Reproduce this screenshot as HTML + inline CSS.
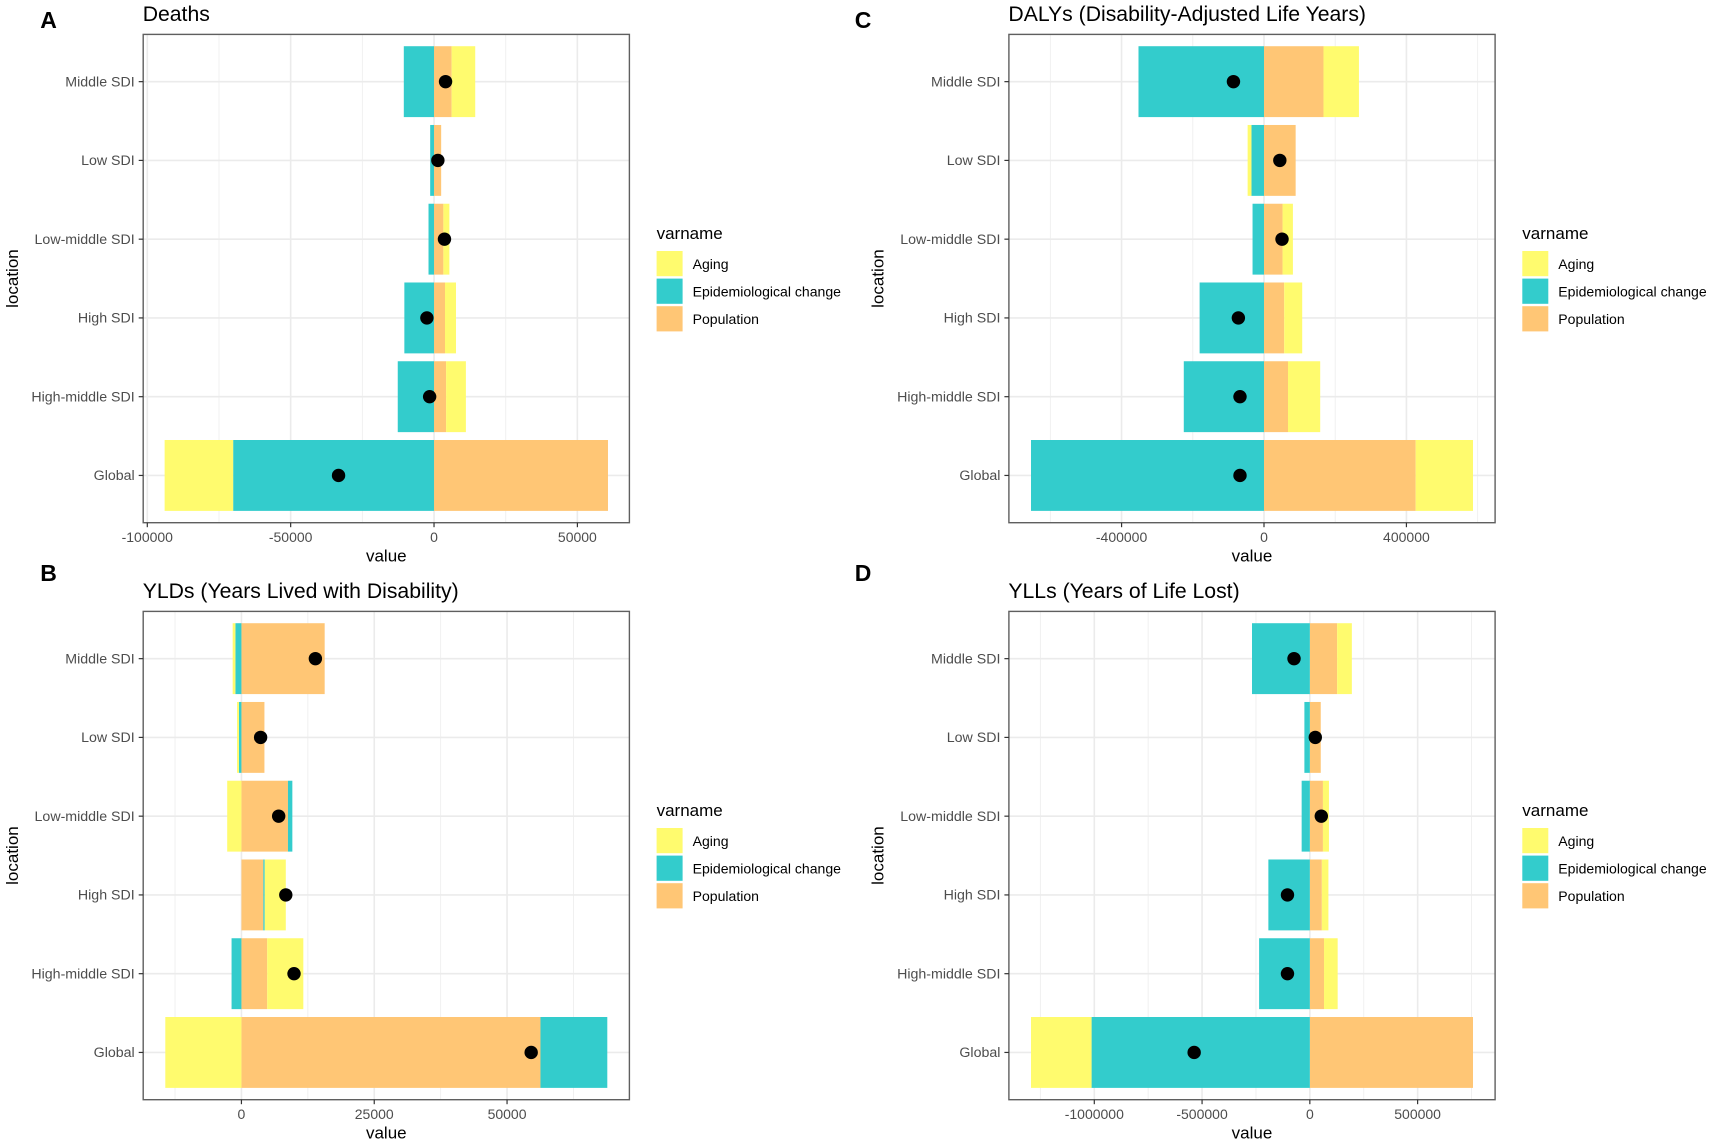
<!DOCTYPE html>
<html lang="en">
<head>
<meta charset="utf-8">
<title>Decomposition of burden by SDI</title>
<style>
html,body{margin:0;padding:0;background:#fff;}
#figure{display:block;width:1712px;height:1144px;font-family:"Liberation Sans",Arial,sans-serif;}
</style>
</head>
<body>
<svg id="figure" xmlns="http://www.w3.org/2000/svg" width="1712" height="1144" viewBox="0 0 1712 1144"></svg>
<script>
const categories = ["Middle SDI", "Low SDI", "Low-middle SDI", "High SDI", "High-middle SDI", "Global"];
const seriesNames = ["Aging", "Epidemiological change", "Population"];

const deathsAging = [8240, 0, 2100, 3830, 6900, -23900];
const deathsEpi = [-10540, -1340, -1920, -10350, -12650, -70060];
const deathsPop = [6130, 2490, 3260, 3830, 4215, 60670];
const deathsNet = [4020, 1340, 3640, -2490, -1530, -33300];
const deathsDomain = [-101430, 68140];
const deathsTicks = [-100000, -50000, 0, 50000];

const yldsAging = [-515, -360, -2680, 3970, 6800, -14330];
const yldsEpi = [-1134, -464, 825, 258, -1856, 12580];
const yldsPop = [15670, 4330, 8760, 4124, 4850, 56290];
const yldsNet = [13920, 3610, 7010, 8350, 9900, 54540];
const yldsDomain = [-18490, 73030];
const yldsTicks = [0, 25000, 50000];

const dalysAging = [99600, -10730, 29100, 50600, 90400, 161000];
const dalysEpi = [-352500, -35250, -32180, -180850, -225300, -654400];
const dalysPop = [167050, 88900, 52100, 56700, 67430, 426000];
const dalysNet = [-85800, 44450, 50600, -72000, -67430, -67430];
const dalysDomain = [-716470, 649070];
const dalysTicks = [-400000, 0, 400000];

const yllsAging = [68350, 0, 27850, 30400, 63300, -281000];
const yllsEpi = [-268350, -25300, -38000, -192400, -235400, -1012640];
const yllsPop = [126600, 50600, 60760, 55700, 65800, 756950];
const yllsNet = [-73400, 25300, 53160, -103800, -103800, -536700];
const yllsDomain = [-1396180, 859480];
const yllsTicks = [-1000000, -500000, 0, 500000];

const panels = [
  {key: "deaths", letter: "A", title: "Deaths", col: 0, row: 0, aging: deathsAging, epi: deathsEpi, pop: deathsPop, net: deathsNet, domain: deathsDomain, ticks: deathsTicks},
  {key: "ylds", letter: "B", title: "YLDs (Years Lived with Disability)", col: 0, row: 1, aging: yldsAging, epi: yldsEpi, pop: yldsPop, net: yldsNet, domain: yldsDomain, ticks: yldsTicks},
  {key: "dalys", letter: "C", title: "DALYs (Disability-Adjusted Life Years)", col: 1, row: 0, aging: dalysAging, epi: dalysEpi, pop: dalysPop, net: dalysNet, domain: dalysDomain, ticks: dalysTicks},
  {key: "ylls", letter: "D", title: "YLLs (Years of Life Lost)", col: 1, row: 1, aging: yllsAging, epi: yllsEpi, pop: yllsPop, net: yllsNet, domain: yllsDomain, ticks: yllsTicks}
];

const COLORS = {Aging: "#fffb6e", Epi: "#33cccc", Pop: "#ffc675"};
const NS = "http://www.w3.org/2000/svg";
const svg = document.getElementById("figure");

function mk(parent, tag, attrs, text) {
  const el = document.createElementNS(NS, tag);
  for (const k in attrs) el.setAttribute(k, attrs[k]);
  if (text !== undefined) el.textContent = text;
  parent.appendChild(el);
  return el;
}

function drawPanel(p) {
  const dx = p.col * 865.7, dy = p.row * 577;
  const L = 143.2 + dx, R = 629.4 + dx, T = 34.4 + dy, B = 522.7 + dy;
  const xScale = v => L + (v - p.domain[0]) / (p.domain[1] - p.domain[0]) * (R - L);
  const step = (B - T) / (categories.length + 0.2);
  const yScale = i => T + (i + 0.6) * step;
  const barH = step * 0.9;

  const g = mk(svg, "g", {});
  
  

  const letter = mk(g, "text", {x: 48.5 + p.col * 814.5, y: 28 + p.row * 553, "text-anchor": "middle", "font-size": 23, "font-weight": "bold", fill: "#000"}, p.letter);
  
  

  const title = mk(g, "text", {x: L - 0.5, y: 21 + dy, "font-size": 21.2, fill: "#000"}, p.title);
  
  

  // minor vertical gridlines: midpoints of the major ticks, extended one step each side
  const tickStep = p.ticks[1] - p.ticks[0];
  const minors = p.ticks.map(t => t + tickStep / 2).concat([p.ticks[0] - tickStep / 2]);
  minors.forEach(v => {
    if (v <= p.domain[0] || v >= p.domain[1]) return;
    const line = mk(g, "line", {x1: xScale(v), x2: xScale(v), y1: T, y2: B, stroke: "#efefef", "stroke-width": 0.9});
    
    
  });
  p.ticks.forEach(v => {
    const line = mk(g, "line", {x1: xScale(v), x2: xScale(v), y1: T, y2: B, stroke: "#ebebeb", "stroke-width": 1.6});
    
    
  });
  categories.forEach((c, i) => {
    const line = mk(g, "line", {x1: L, x2: R, y1: yScale(i), y2: yScale(i), stroke: "#ebebeb", "stroke-width": 1.6});
    
    
  });

  // stacked bars: population nearest zero, then epidemiological change, then aging
  categories.forEach((c, i) => {
    let pos = 0, neg = 0;
    [["population", p.pop[i], COLORS.Pop], ["epidemiological-change", p.epi[i], COLORS.Epi], ["aging", p.aging[i], COLORS.Aging]].forEach(s => {
      const v = s[1];
      if (v === 0) return;
      const start = v > 0 ? pos : neg;
      const end = start + v;
      if (v > 0) pos = end; else neg = end;
      const x0 = xScale(Math.min(start, end)), x1 = xScale(Math.max(start, end));
      const bar = mk(g, "rect", {x: x0, y: yScale(i) - barH / 2, width: x1 - x0, height: barH, fill: s[2]});
      
      
    });
  });

  categories.forEach((c, i) => {
    const dot = mk(g, "circle", {cx: xScale(p.net[i]), cy: yScale(i), r: 6.7, fill: "#000"});
    
    
  });

  const frame = mk(g, "rect", {x: L, y: T, width: R - L, height: B - T, fill: "none", stroke: "#5f5f5f", "stroke-width": 1.4});
  
  

  p.ticks.forEach(v => {
    const tick = mk(g, "line", {x1: xScale(v), x2: xScale(v), y1: B, y2: B + 4.5, stroke: "#333", "stroke-width": 1.2});
    
    
    const label = mk(g, "text", {x: xScale(v), y: B + 19.5, "text-anchor": "middle", "font-size": 14, fill: "#4d4d4d"}, String(v));
    
    
  });
  categories.forEach((c, i) => {
    const tick = mk(g, "line", {x1: L - 4.5, x2: L, y1: yScale(i), y2: yScale(i), stroke: "#333", "stroke-width": 1.2});
    
    
    const label = mk(g, "text", {x: L - 8.5, y: yScale(i) + 4.6, "text-anchor": "end", "font-size": 14.2, fill: "#4d4d4d"}, c);
    
    
  });

  const xTitle = mk(g, "text", {x: (L + R) / 2, y: B + 39, "text-anchor": "middle", "font-size": 17, fill: "#000"}, "value");
  
  

  const yx = 18 + dx, yy = (T + B) / 2;
  const yTitle = mk(g, "text", {x: yx, y: yy, "text-anchor": "middle", "font-size": 17, fill: "#000", transform: "rotate(-90 " + yx + " " + yy + ")"}, "location");
  
  

  // legend
  const lx = 656.6 + dx, keyTop = 251 + dy, keyStep = 27.6, keySize = 26;
  const lg = mk(g, "g", {});
  
  
  const lt = mk(lg, "text", {x: lx, y: 239 + dy, "font-size": 17, fill: "#000"}, "varname");
  
  
  const keyColors = [COLORS.Aging, COLORS.Epi, COLORS.Pop];
  seriesNames.forEach((n, i) => {
    const key = mk(lg, "rect", {x: lx, y: keyTop + i * keyStep, width: keySize, height: keySize - 0.8, fill: keyColors[i]});
    
    
    const txt = mk(lg, "text", {x: lx + 36, y: keyTop + i * keyStep + 18, "font-size": 14.05, fill: "#000"}, n);
    
    
  });
}

panels.forEach(drawPanel);
</script>
</body>
</html>
